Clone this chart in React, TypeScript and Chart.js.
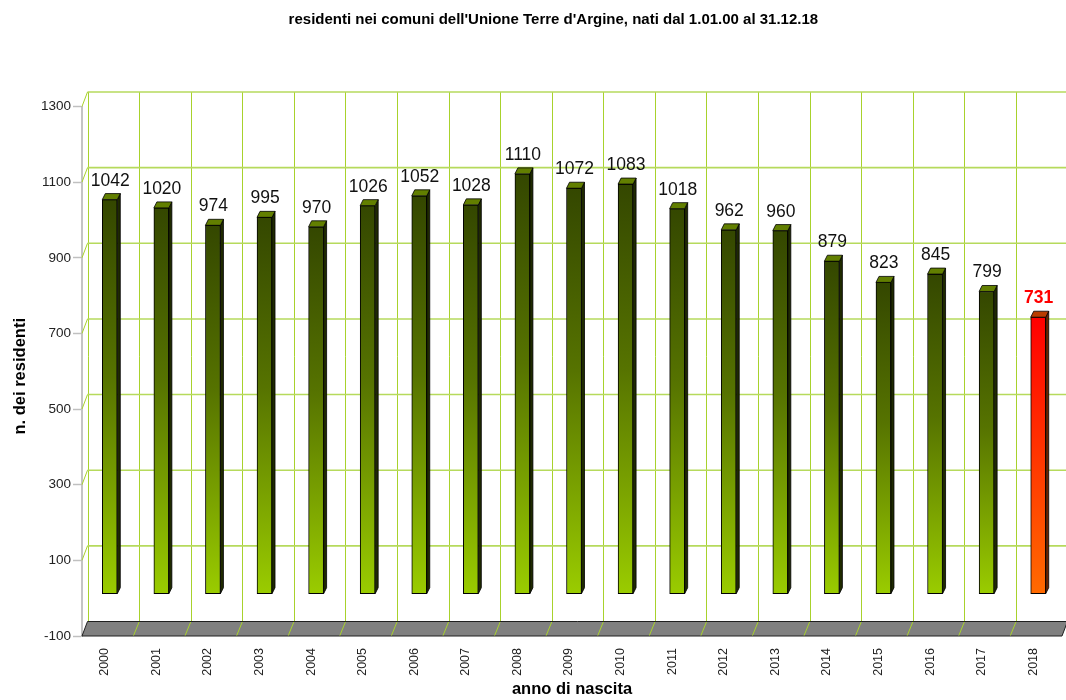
import React, { useEffect, useRef } from "react";
import { Chart, registerables } from "chart.js";

Chart.register(...registerables);

// ---- data ----
const categories = [
  "2000", "2001", "2002", "2003", "2004", "2005", "2006", "2007", "2008", "2009",
  "2010", "2011", "2012", "2013", "2014", "2015", "2016", "2017", "2018",
];
const residents = [
  1042, 1020, 974, 995, 970, 1026, 1052, 1028, 1110, 1072,
  1083, 1018, 962, 960, 879, 823, 845, 799, 731,
];
const yMin = -100;
const yMax = 1300;
const yStep = 200;
const highlightCategory = "2018";

const titleText = "residenti nei comuni dell'Unione Terre d'Argine, nati dal 1.01.00 al 31.12.18";
const yTitle = "n. dei residenti";
const xTitle = "anno di nascita";

// ---- 3D geometry (styles) ----
const WALL_DX = 5.5;
const WALL_DY = -14.5;
const BAR_SHIFT_X = 2;
const BAR_SHIFT_Y = -4.5;
const BAR_DX = 3;
const BAR_DY = -6;
const FONT = "'Liberation Sans', Arial, Helvetica, sans-serif";

const isHi = (i: number) => categories[i] === highlightCategory;

const threeDPlugin = {
  id: "threeD",
  beforeDatasetsDraw(chart: any) {
    const { ctx, chartArea } = chart;
    const y = chart.scales.y;
    const { left, right } = chartArea;
    const n = categories.length;
    const catW = (right - left) / n;
    const yTop = y.getPixelForValue(yMax) + WALL_DY;
    const yFloorBack = y.getPixelForValue(yMin) + WALL_DY;
    const yFloorFront = y.getPixelForValue(yMin);
    ctx.save();
    // back wall vertical lines
    ctx.strokeStyle = "#a8d22c";
    ctx.lineWidth = 1;
    for (let i = 0; i <= n; i++) {
      const xb = Math.round(left + i * catW + WALL_DX) + 0.5;
      ctx.beginPath();
      ctx.moveTo(xb, yTop);
      ctx.lineTo(xb, yFloorBack);
      ctx.stroke();
    }
    // horizontal lines + side diagonals
    for (let v = yMin + yStep; v <= yMax; v += yStep) {
      const yf = y.getPixelForValue(v);
      const yb = yf + WALL_DY;
      ctx.strokeStyle = "#b6da5c";
      ctx.lineWidth = 1.6;
      ctx.beginPath();
      ctx.moveTo(left + WALL_DX, yb);
      ctx.lineTo(right + WALL_DX + 10, yb);
      ctx.stroke();
      ctx.strokeStyle = "#a8d22c";
      ctx.lineWidth = 1;
      ctx.beginPath();
      ctx.moveTo(left, yf);
      ctx.lineTo(left + WALL_DX, yb);
      ctx.stroke();
    }
    // floor
    ctx.beginPath();
    ctx.moveTo(left, yFloorFront);
    ctx.lineTo(right, yFloorFront);
    ctx.lineTo(right + WALL_DX, yFloorBack);
    ctx.lineTo(left + WALL_DX, yFloorBack);
    ctx.closePath();
    ctx.fillStyle = "#808080";
    ctx.fill();
    ctx.strokeStyle = "#202020";
    ctx.lineWidth = 1;
    ctx.stroke();
    ctx.strokeStyle = "#a8d22c";
    for (let i = 1; i < n; i++) {
      const xf = left + i * catW;
      ctx.beginPath();
      ctx.moveTo(xf, yFloorFront - 0.5);
      ctx.lineTo(xf + WALL_DX, yFloorBack + 0.5);
      ctx.stroke();
    }
    ctx.restore();
    ctx.save();
    ctx.translate(BAR_SHIFT_X, BAR_SHIFT_Y);
  },
  afterDatasetsDraw(chart: any) {
    const { ctx } = chart;
    const meta = chart.getDatasetMeta(0);
    meta.data.forEach((bar: any, i: number) => {
      const { x, y, base, width } = bar.getProps(["x", "y", "base", "width"], true);
      const l = x - width / 2;
      const r = x + width / 2;
      const hi = isHi(i);
      // side face
      ctx.beginPath();
      ctx.moveTo(r, y);
      ctx.lineTo(r + BAR_DX, y + BAR_DY);
      ctx.lineTo(r + BAR_DX, base + BAR_DY);
      ctx.lineTo(r, base);
      ctx.closePath();
      ctx.fillStyle = hi ? "#6a2400" : "#1f2a00";
      ctx.fill();
      ctx.strokeStyle = "#000";
      ctx.lineWidth = 0.8;
      ctx.stroke();
      // top face
      ctx.beginPath();
      ctx.moveTo(l, y);
      ctx.lineTo(l + BAR_DX, y + BAR_DY);
      ctx.lineTo(r + BAR_DX, y + BAR_DY);
      ctx.lineTo(r, y);
      ctx.closePath();
      ctx.fillStyle = hi ? "#b83c00" : "#627f00";
      ctx.fill();
      ctx.stroke();
    });
    ctx.restore();
    // value labels
    ctx.save();
    ctx.textAlign = "center";
    ctx.textBaseline = "alphabetic";
    meta.data.forEach((bar: any, i: number) => {
      const { x, y } = bar.getProps(["x", "y"], true);
      const hi = isHi(i);
      ctx.font = (hi ? "bold " : "") + "17.5px " + FONT;
      ctx.fillStyle = hi ? "#ff0000" : "#111";
      ctx.fillText(String(residents[i]), x + BAR_SHIFT_X + 0.5, y + BAR_SHIFT_Y - 14);
    });
    ctx.restore();
  },
  afterDraw(chart: any) {
    const { ctx, chartArea } = chart;
    ctx.save();
    // chart title
    ctx.font = "bold 15px " + FONT;
    ctx.fillStyle = "#000";
    ctx.textAlign = "center";
    ctx.textBaseline = "middle";
    ctx.fillText(titleText, chartArea.left + (chartArea.right - chartArea.left) * 0.481, 20);
    // y axis title
    ctx.font = "bold 16.5px " + FONT;
    ctx.translate(20.5, (chartArea.top + chartArea.bottom) / 2 + 5);
    ctx.rotate(-Math.PI / 2);
    ctx.fillText(yTitle, 0, 0);
    ctx.restore();
  },
};

export default function App() {
  const ref = useRef<HTMLCanvasElement | null>(null);
  useEffect(() => {
    if (!ref.current) return;
    const chart = new Chart(ref.current, {
      type: "bar",
      data: {
        labels: categories,
        datasets: [
          {
            data: residents,
            backgroundColor: (c: any) => {
              const ch = c.chart;
              const i = c.dataIndex;
              const hi = isHi(i);
              if (!ch.chartArea || c.type !== "data") return hi ? "#ff3300" : "#99cc00";
              const ys = ch.scales.y;
              const top = ys.getPixelForValue(residents[i]);
              const bottom = ys.getPixelForValue(0);
              const g = ch.ctx.createLinearGradient(0, top, 0, bottom);
              if (hi) {
                g.addColorStop(0, "#ff0000");
                g.addColorStop(1, "#ff6a00");
              } else {
                g.addColorStop(0, "#344700");
                g.addColorStop(0.45, "#567300");
                g.addColorStop(1, "#9acc00");
              }
              return g;
            },
            borderColor: "#000",
            borderWidth: 1,
            borderSkipped: false,
            barThickness: 15,
          },
        ],
      },
      options: {
        responsive: false,
        animation: false,
        events: [],
        layout: { padding: { left: 0, right: 4, top: 106.5, bottom: 0 } },
        plugins: {
          legend: { display: false },
          tooltip: { enabled: false },
          title: { display: false },
        },
        scales: {
          x: {
            grid: { display: false, drawTicks: false },
            border: { display: false },
            ticks: {
              minRotation: 90,
              maxRotation: 90,
              padding: 12,
              labelOffset: -3,
              color: "#222",
              font: { family: FONT, size: 12.5 },
              autoSkip: false,
            },
            title: {
              display: true,
              text: xTitle,
              color: "#000",
              font: { family: FONT, size: 16.5, weight: "bold" },
              padding: { top: 0, bottom: 1 },
            },
            afterFit: (s: any) => {
              s.height = 64;
            },
          },
          y: {
            min: yMin,
            max: yMax,
            ticks: {
              stepSize: yStep,
              padding: 2,
              color: "#222",
              font: { family: FONT, size: 13.5 },
              callback: (v: any) => String(v),
            },
            grid: {
              drawOnChartArea: false,
              drawTicks: true,
              tickLength: 9,
              tickColor: "#c0c0c0",
              tickWidth: 1.5,
            },
            border: { display: true, color: "#c4c4c4", width: 2 },
            title: { display: false },
            afterFit: (s: any) => {
              s.width = 82;
            },
          },
        },
      },
      plugins: [threeDPlugin],
    } as any);
    return () => chart.destroy();
  }, []);
  return (
    <div style={{ position: "fixed", left: 0, top: 0, width: 1066, height: 700, background: "#fff" }}>
      <canvas ref={ref} width={1066} height={700} style={{ display: "block" }} />
    </div>
  );
}
